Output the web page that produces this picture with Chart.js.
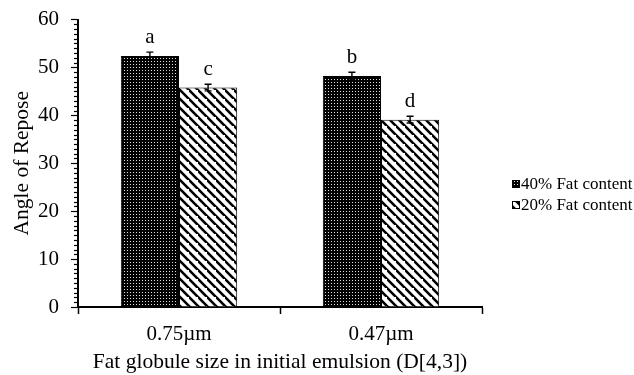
<!DOCTYPE html>
<html>
<head>
<meta charset="utf-8">
<script src="https://cdn.jsdelivr.net/npm/chart.js@4"></script>
<style>
  html, body { margin: 0; padding: 0; background: #fff; }
  #wrap { width: 634px; height: 375px; }
</style>
</head>
<body>
<div id="wrap"><canvas id="chartContainer" width="634" height="375"></canvas></div>
<script>
const categories = ['0.75\u00b5m', '0.47\u00b5m'];
const seriesNames = ['40% Fat content', '20% Fat content'];
const fat40 = [52.4, 48.2];
const fat20 = [45.8, 39.1];
const err40 = [0.8, 0.8];
const err20 = [0.7, 0.7];
const letters40 = ['a', 'b'];
const letters20 = ['c', 'd'];
const yTicks = [0, 10, 20, 30, 40, 50, 60];

const serif = '"Liberation Serif", "Times New Roman", serif';

function dotPattern() {
  const c = document.createElement('canvas');
  c.width = 3; c.height = 3;
  const g = c.getContext('2d');
  g.fillStyle = '#000';
  g.fillRect(0, 0, 3, 3);
  g.fillStyle = '#e0e0e0';
  g.fillRect(1, 1, 1, 1);
  return g.createPattern(c, 'repeat');
}

function stripePattern() {
  const s = 9;
  const c = document.createElement('canvas');
  c.width = s; c.height = s;
  const g = c.getContext('2d');
  g.fillStyle = '#fff';
  g.fillRect(0, 0, s, s);
  g.strokeStyle = '#000';
  g.lineWidth = 2.6;
  g.beginPath();
  g.moveTo(-1, -1); g.lineTo(s + 1, s + 1);
  g.moveTo(-s - 1, -1); g.lineTo(1, s + 1);
  g.moveTo(s - 1, -s - 1); g.lineTo(2 * s + 1, s + 1);
  g.stroke();
  return g.createPattern(c, 'repeat');
}

const fills = [dotPattern(), stripePattern()];
const errs = [err40, err20];
const letters = [letters40, letters20];

const extras = {
  id: 'extras',
  afterDatasetsDraw(chart) {
    const ctx = chart.ctx;
    const y = chart.scales.y;
    const area = chart.chartArea;
    ctx.save();
    // minor ticks on y axis
    ctx.strokeStyle = '#000';
    ctx.lineWidth = 1.2;
    for (let v = 0; v <= 60; v++) {
      if (v % 10 === 0) continue;
      const py = Math.round(y.getPixelForValue(v)) + 0.5;
      ctx.beginPath();
      ctx.moveTo(area.left - 4, py);
      ctx.lineTo(area.left, py);
      ctx.stroke();
    }
    // error bars and letters
    ctx.lineWidth = 1.4;
    ctx.font = '21px ' + serif;
    ctx.fillStyle = '#000';
    ctx.textAlign = 'center';
    ctx.textBaseline = 'alphabetic';
    chart.data.datasets.forEach((ds, di) => {
      const meta = chart.getDatasetMeta(di);
      meta.data.forEach((bar, i) => {
        const v = ds.data[i];
        const e = errs[di][i];
        const top = y.getPixelForValue(v + e);
        const bot = y.getPixelForValue(v - e);
        const x = bar.x;
        ctx.beginPath();
        ctx.moveTo(x, top); ctx.lineTo(x, bot);
        ctx.moveTo(x - 3.5, top); ctx.lineTo(x + 3.5, top);
        ctx.moveTo(x - 3.5, bot); ctx.lineTo(x + 3.5, bot);
        ctx.stroke();
        ctx.fillText(letters[di][i], x, top - 9);
      });
    });
    // legend
    ctx.font = '17px ' + serif;
    ctx.textAlign = 'left';
    ctx.textBaseline = 'middle';
    const ly = [184, 205];
    seriesNames.forEach((name, i) => {
      ctx.fillStyle = fills[i];
      ctx.fillRect(512, ly[i] - 4, 8, 8);
      ctx.strokeStyle = '#000';
      ctx.lineWidth = 1;
      ctx.strokeRect(512.5, ly[i] - 3.5, 7, 7);
      ctx.fillStyle = '#000';
      ctx.fillText(name, 521, ly[i] + 1);
    });
    ctx.restore();
  }
};

const ctx = document.getElementById('chartContainer').getContext('2d');
new Chart(ctx, {
  type: 'bar',
  data: {
    labels: categories,
    datasets: [
      { label: seriesNames[0], data: fat40, backgroundColor: fills[0], borderColor: '#000', borderWidth: 1 },
      { label: seriesNames[1], data: fat20, backgroundColor: fills[1], borderColor: '#000', borderWidth: 1 }
    ]
  },
  options: {
    responsive: false,
    animation: false,
    layout: { padding: { top: 19.5, right: 152, left: 0, bottom: 0 } },
    datasets: { bar: { categoryPercentage: 0.576, barPercentage: 1 } },
    plugins: { legend: { display: false }, tooltip: { enabled: false } },
    scales: {
      x: {
        afterFit: (s) => { s.height = 68; },
        grid: { display: true, drawOnChartArea: false, tickLength: 7, color: '#000', tickWidth: 1.5 },
        border: { display: true, color: '#000', width: 2 },
        ticks: { color: '#000', font: { family: serif, size: 21 }, padding: 8 },
        title: { display: true, text: 'Fat globule size in initial emulsion (D[4,3])', color: '#000',
                 font: { family: serif, size: 21.5 }, padding: { top: 0, bottom: 0 } }
      },
      y: {
        min: 0, max: 60,
        afterFit: (s) => { s.width = 78; s.paddingTop = 0; s.paddingBottom = 0; },
        afterBuildTicks: (s) => { s.ticks = yTicks.map(v => ({ value: v })); },
        grid: { display: true, drawOnChartArea: false, tickLength: 7, color: '#000', tickWidth: 1.2 },
        border: { display: true, color: '#000', width: 2 },
        ticks: { color: '#000', font: { family: serif, size: 21 }, padding: 12 },
        title: { display: true, text: 'Angle of Repose', color: '#000',
                 font: { family: serif, size: 21.5 }, padding: { top: 9, bottom: 0 } }
      }
    }
  },
  plugins: [extras]
});
</script>
</body>
</html>
